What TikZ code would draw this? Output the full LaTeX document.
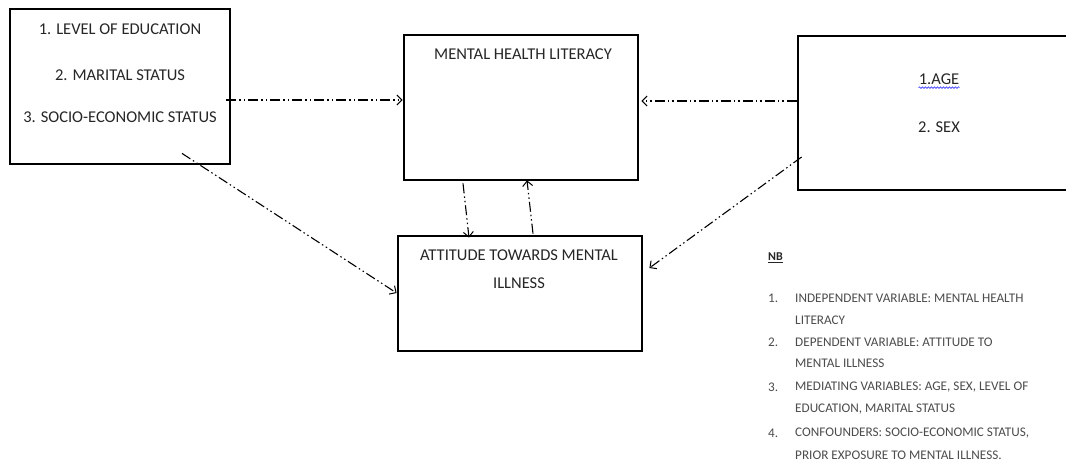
\documentclass[tikz,border=0pt]{standalone}
\usepackage{fontspec}
\setmainfont{Carlito}
\usetikzlibrary{arrows.meta,calc,decorations.pathmorphing}
\begin{document}
\begin{tikzpicture}[x=1pt,y=-1pt,
  box/.style={draw,line width=2.8pt,inner sep=0pt},
  boxtext/.style={font=\fontsize{16.5}{19}\selectfont,text=black!85,inner sep=0pt},
  legtext/.style={font=\fontsize{13.2}{15}\selectfont,text=black!70,inner sep=0pt,anchor=west},
  conn/.style={line width=1.1pt,dash pattern=on 10pt off 3pt on 1.5pt off 3pt on 1.5pt off 3pt,
    -{Straight Barb[length=5pt,width=10pt,line width=1pt]}}]
\useasboundingbox (0,0) rectangle (1066,463);
\fill[white] (0,0) rectangle (1066,463);
% boxes
\node[box,minimum width=220pt,minimum height=155pt] (edu) at (120,86.5) {};
\node[box,minimum width=234pt,minimum height=145pt] (mhl) at (521,107.5) {};
\node[box,minimum width=280pt,minimum height=154pt] (age) at (938,113) {};
\node[box,minimum width=244pt,minimum height=115pt] (att) at (520,293.5) {};
% box texts
\node[boxtext] (e1) at (120,29) {1. LEVEL OF EDUCATION};
\node[boxtext] (e2) at (120,75) {2. MARITAL STATUS};
\node[boxtext] (e3) at (120,117) {3. SOCIO-ECONOMIC STATUS};
\node[boxtext] (m1) at (523,54) {MENTAL HEALTH LITERACY};
\node[boxtext] (a1) at (939,79) {1.AGE};
\draw[blue!80,line width=0.6pt,decorate,decoration={snake,amplitude=0.9pt,segment length=3pt}]
  ([shift={(0,3)}]a1.south west) -- ([shift={(0,3)}]a1.south east);
\node[boxtext] (a2) at (939,127) {2. SEX};
\node[boxtext] (t1) at (519,255) {ATTITUDE TOWARDS MENTAL};
\node[boxtext] (t2) at (519,283) {ILLNESS};
% connectors
\draw[conn] ([shift={(-5,13.5)}]edu.east) -- ([shift={(0,-7.5)}]mhl.west);
\draw[conn] ([shift={(0,-12)}]age.west) -- ([shift={(2,-6.5)}]mhl.east);
\draw[conn] ([shift={(62,-12)}]edu.south) -- ([shift={(0,-0.5)}]att.west);
\draw[conn] ([shift={(5,44)}]age.west) -- ([shift={(6,-25.5)}]att.east);
\draw[conn] ([shift={(-58,2)}]mhl.south) -- ([shift={(-51,3)}]att.north);
\draw[conn] ([shift={(13,-1)}]att.north) -- ([shift={(6,-1)}]mhl.south);
% legend
\node[legtext,font=\fontsize{12}{14}\selectfont\bfseries,text=black!85] (nb) at (768,258) {\underline{NB}};
\node[legtext] (n1) at (768,298) {1.};
\node[legtext] (l1a) at (795,298) {INDEPENDENT VARIABLE: MENTAL HEALTH};
\node[legtext] (l1b) at (795,320) {LITERACY};
\node[legtext] (n2) at (768,342) {2.};
\node[legtext] (l2a) at (795,342) {DEPENDENT VARIABLE: ATTITUDE TO};
\node[legtext] (l2b) at (795,363) {MENTAL ILLNESS};
\node[legtext] (n3) at (768,387) {3.};
\node[legtext] (l3a) at (795,387) {MEDIATING VARIABLES: AGE, SEX, LEVEL OF};
\node[legtext] (l3b) at (795,409) {EDUCATION, MARITAL STATUS};
\node[legtext] (n4) at (768,433) {4.};
\node[legtext] (l4a) at (795,433) {CONFOUNDERS: SOCIO-ECONOMIC STATUS,};
\node[legtext] (l4b) at (795,455) {PRIOR EXPOSURE TO MENTAL ILLNESS.};
\end{tikzpicture}
\end{document}
